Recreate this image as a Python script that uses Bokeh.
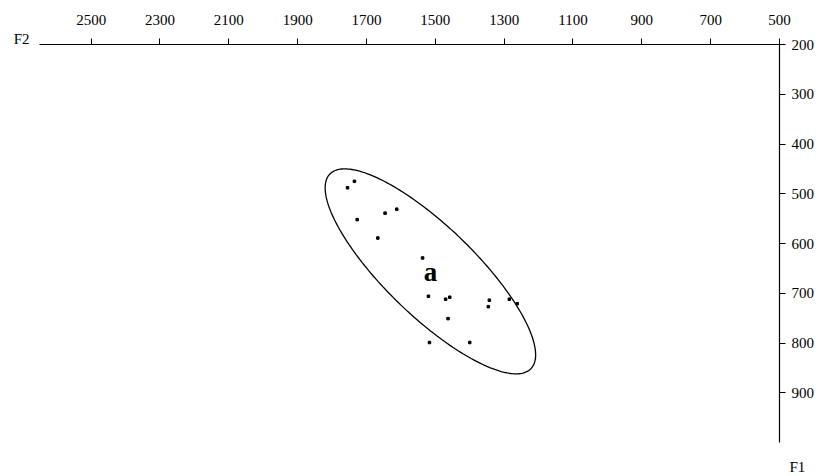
import numpy as np
from bokeh.plotting import figure
from bokeh.models import Range1d, FixedTicker, Label, LinearAxis, Title
from bokeh.embed import file_html
from bokeh.resources import INLINE

# ---- data (Hz) ----
f2 = [1735, 1755, 1727, 1646, 1612, 1667, 1537, 1520, 1470, 1458,
      1343, 1346, 1285, 1262, 1463, 1517, 1400]
f1 = [475, 488, 552, 539, 531, 589, 629, 706, 712, 708,
      714, 727, 712, 721, 751, 799, 799]
vowel = "a"
f2_ticks = [2500, 2300, 2100, 1900, 1700, 1500, 1300, 1100, 900, 700, 500]
f1_ticks = [200, 300, 400, 500, 600, 700, 800, 900]
n_std = 2

# ---- confidence ellipse derived from the points ----
x = np.array(f2, dtype=float)
y = np.array(f1, dtype=float)
mx, my = x.mean(), y.mean()
cov = np.cov(np.vstack([x, y]), bias=True)
vals, vecs = np.linalg.eigh(cov)
t = np.linspace(0, 2 * np.pi, 241)
circ = np.vstack([np.cos(t), np.sin(t)])
ell = vecs @ np.diag(n_std * np.sqrt(vals)) @ circ
ex = mx + ell[0]
ey = my + ell[1]

FONT = "Liberation Serif"

p = figure(width=819, height=476, output_backend="svg", toolbar_location=None,
           x_range=Range1d(start=2650, end=500), y_range=Range1d(start=1000, end=200),
           x_axis_location="above", y_axis_location="right",
           min_border_left=39, min_border_right=40, min_border_top=44, min_border_bottom=34)
p.outline_line_color = None
p.xgrid.visible = False
p.ygrid.visible = False
p.background_fill_color = "white"
p.border_fill_color = "white"

for ax, ticks in ((p.xaxis[0], f2_ticks), (p.yaxis[0], f1_ticks)):
    ax.ticker = FixedTicker(ticks=ticks)
    ax.minor_tick_line_color = None
    ax.major_tick_in = 0
    ax.major_tick_out = 6
    ax.axis_line_color = "black"
    ax.axis_line_width = 1.2
    ax.major_tick_line_color = "black"
    ax.major_label_text_font = FONT
    ax.major_label_text_font_size = "15px"
    ax.major_label_text_color = "black"
p.xaxis[0].major_label_standoff = 14
p.yaxis[0].major_label_standoff = 6

# "F2" name placed at the left end of the F2 axis line (second empty line lifts it)
name_axis = LinearAxis(ticker=FixedTicker(ticks=[200]), major_label_overrides={200: "F2\n"},
                       axis_line_color=None, major_tick_line_color=None,
                       minor_tick_line_color=None, major_tick_out=0, major_tick_in=0,
                       major_label_standoff=10, major_label_text_font=FONT,
                       major_label_text_font_size="15px", major_label_text_color="black",
                       major_label_text_line_height=0.65)
p.add_layout(name_axis, "left")

p.line(ex, ey, line_color="black", line_width=1.3)
p.scatter(f2, f1, marker="square", size=2.5, color="black")

p.add_layout(Label(x=mx, y=my, text=vowel, text_font=FONT, text_font_style="bold",
                   text_font_size="27px", text_color="black", text_align="center",
                   text_baseline="alphabetic", y_offset=-1))

# "F1" name below the end of the F1 axis (leading empty line pushes it down)
p.add_layout(Title(text="\nF1", align="left", offset=750, standoff=4,
                   text_line_height=0.75, text_font=FONT, text_font_size="15px",
                   text_font_style="normal", text_color="black"), "below")

open("out.html", "w").write(file_html(p, INLINE))
